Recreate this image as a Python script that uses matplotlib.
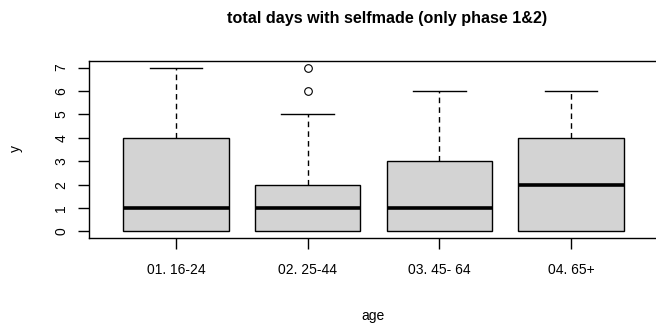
import matplotlib.pyplot as plt

plt.rcParams['font.family'] = ['Liberation Sans', 'DejaVu Sans']

groups = ["01. 16-24", "02. 25-44", "03. 45- 64", "04. 65+"]
lower_whisker = [0, 0, 0, 0]
q1 = [0, 0, 0, 0]
median = [1, 1, 1, 2]
q3 = [4, 2, 3, 4]
upper_whisker = [7, 5, 6, 6]
outliers = [[], [6, 7], [], []]

stats = []
for i, name in enumerate(groups):
    stats.append({
        "label": name,
        "whislo": lower_whisker[i],
        "q1": q1[i],
        "med": median[i],
        "q3": q3[i],
        "whishi": upper_whisker[i],
        "fliers": outliers[i],
    })

fig = plt.figure(figsize=(6.56, 3.31), dpi=100)
W, H = 656, 331
ax = fig.add_axes([89 / W, (H - 238) / H, (658 - 89) / W, (238 - 61) / H])

parts = ax.bxp(
    stats,
    positions=range(1, 5),
    widths=0.8,
    patch_artist=True,
    boxprops=dict(facecolor="#d3d3d3", edgecolor="black", linewidth=1.0, zorder=3),
    medianprops=dict(color="black", linewidth=2.6, solid_capstyle="butt", zorder=4),
    whiskerprops=dict(color="black", linewidth=1.0, linestyle=(0, (4, 3))),
    capprops=dict(color="black", linewidth=1.0),
    capwidths=0.4,
    flierprops=dict(marker="o", markerfacecolor="none", markeredgecolor="black",
                    markersize=5.5, markeredgewidth=0.8),
)

# lower caps sit on the box edge when the whisker has zero length
for i in range(len(groups)):
    if lower_whisker[i] == q1[i]:
        parts["caps"][2 * i].set_visible(False)
        parts["whiskers"][2 * i].set_visible(False)

ax.set_xlim(0.34, 4.66)
ax.set_ylim(-0.28, 7.28)
ax.set_yticks(range(0, 8))
ax.set_yticklabels([str(v) for v in range(0, 8)], rotation=90, va="center")
ax.set_xticks(range(1, 5))
ax.set_xticklabels(groups)

for side in ax.spines.values():
    side.set_linewidth(1.0)
    side.set_color("black")

ax.tick_params(axis="both", length=8, width=1.0, labelsize=10, pad=7, colors="black")
ax.tick_params(axis="x", pad=10)

fig.text(16 / W, 1 - 148 / H, "y", rotation=90, ha="center", va="center", fontsize=10)
fig.text(373 / W, 1 - 316 / H, "age", ha="center", va="center", fontsize=10)
fig.text(387 / W, 1 - 18 / H, "total days with selfmade (only phase 1&2)",
         ha="center", va="center", fontsize=11.6, fontweight="bold")

fig.savefig("out.png", dpi=100)
